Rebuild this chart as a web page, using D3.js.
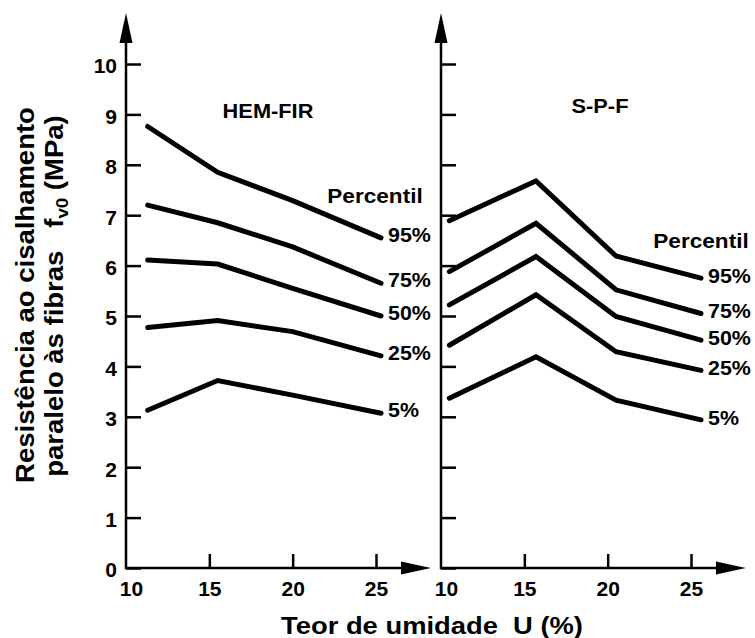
<!DOCTYPE html>
<html>
<head>
<meta charset="utf-8">
<script src="https://cdn.jsdelivr.net/npm/d3@7"></script>
<style>
  body { margin: 0; background: #fff; }
  svg { display: block; }
  text { font-family: "Liberation Sans", Arial, Helvetica, sans-serif; font-weight: bold; fill: #000; }
</style>
</head>
<body>
<svg id="chart" width="755" height="638"></svg>
<script>
// Moisture content U (%) at which each percentile curve is given
const moistureHemFir = [11.3, 15.5, 20.0, 25.3];
const moistureSpf = [10.5, 15.7, 20.5, 25.6];
const percentiles = ["95%", "75%", "50%", "25%", "5%"];

// HEM-FIR: shear strength parallel to grain fv0 (MPa)
const hemFir95 = [8.76, 7.85, 7.29, 6.55];
const hemFir75 = [7.20, 6.85, 6.37, 5.65];
const hemFir50 = [6.11, 6.03, 5.55, 5.00];
const hemFir25 = [4.77, 4.91, 4.69, 4.21];
const hemFir5  = [3.13, 3.72, 3.43, 3.07];

// S-P-F: shear strength parallel to grain fv0 (MPa)
const spf95 = [6.89, 7.68, 6.19, 5.75];
const spf75 = [5.88, 6.84, 5.52, 5.05];
const spf50 = [5.22, 6.18, 4.99, 4.52];
const spf25 = [4.42, 5.42, 4.29, 3.92];
const spf5  = [3.37, 4.19, 3.33, 2.94];

const xTicks = [10, 15, 20, 25];
const yTicks = [0, 1, 2, 3, 4, 5, 6, 7, 8, 9, 10];
const panelNames = ["HEM-FIR", "S-P-F"];

const svg = d3.select("#chart");

// Shared vertical scale
const y = d3.scaleLinear().domain([0, 10]).range([568, 64]);

// Place a text element, optionally rotated, with a horizontal stretch around its anchor
function placeText(sel, px, py, k, rot) {
  sel.attr("transform", `translate(${px},${py})` + (rot ? ` rotate(${rot})` : "") + ` scale(${k},1)`);
  return sel;
}

const panels = [
  {
    name: panelNames[0],
    moisture: moistureHemFir,
    series: [hemFir95, hemFir75, hemFir50, hemFir25, hemFir5],
    range: [126, 376],
    showYLabels: true,
    title: [268, 118],
    percentil: [375, 203],
    labelDy: 3
  },
  {
    name: panelNames[1],
    moisture: moistureSpf,
    series: [spf95, spf75, spf50, spf25, spf5],
    range: [441, 691],
    showYLabels: false,
    title: [600, 113],
    percentil: [701, 248],
    labelDy: 4
  }
];

panels.forEach(p => {
  const x = d3.scaleLinear().domain([10, 25]).range(p.range);
  const g = svg.append("g");
  const x0 = x(10), y0 = y(0);

  // Y axis: ticks point into the plot
  const yAxis = d3.axisLeft(y)
    .tickValues(yTicks)
    .tickSizeInner(-15)
    .tickSizeOuter(0)
    .tickPadding(9)
    .tickFormat(p.showYLabels ? d3.format("d") : () => "");
  const gy = g.append("g").attr("transform", `translate(${x0},0)`).call(yAxis);
  gy.attr("font-family", null).attr("font-size", null);
  gy.select(".domain").remove();
  gy.selectAll(".tick line").attr("stroke", "#000").attr("stroke-width", 2.5);
  gy.selectAll(".tick text")
    .attr("font-size", 21)
    .attr("dy", "0.42em");

  // X axis: ticks point up into the plot
  const xAxis = d3.axisBottom(x)
    .tickValues(xTicks)
    .tickSizeInner(-14)
    .tickSizeOuter(0)
    .tickPadding(13)
    .tickFormat(d3.format("d"));
  const gx = g.append("g").attr("transform", `translate(0,${y0})`).call(xAxis);
  gx.attr("font-family", null).attr("font-size", null);
  gx.select(".domain").remove();
  gx.selectAll(".tick line").attr("stroke", "#000").attr("stroke-width", 2.5);
  gx.selectAll(".tick text").attr("font-size", 21);
  gx.selectAll(".tick text").filter(d => d === 10).attr("dx", 5);
  gx.selectAll(".tick").filter(d => d === 10).select("line").remove();

  // Axis lines with arrowheads
  const yTip = 13, yBase = 43, xTip = x(25) + 55, xBase = xTip - 30, hw = 6.5;
  g.append("line")
    .attr("x1", x0).attr("x2", x0).attr("y1", y0 + 1).attr("y2", yBase)
    .attr("stroke", "#000").attr("stroke-width", 2.5);
  g.append("path")
    .attr("d", `M${x0},${yTip}L${x0 - hw},${yBase}L${x0 + hw},${yBase}Z`)
    .attr("fill", "#000");
  g.append("line")
    .attr("x1", x0 - 1).attr("x2", xBase).attr("y1", y0).attr("y2", y0)
    .attr("stroke", "#000").attr("stroke-width", 2.5);
  g.append("path")
    .attr("d", `M${xTip},${y0}L${xBase},${y0 - hw}L${xBase},${y0 + hw}Z`)
    .attr("fill", "#000");

  // Percentile curves
  const line = d3.line()
    .x(d => x(d[0]))
    .y(d => y(d[1]));
  p.series.forEach((vals, i) => {
    const pts = vals.map((v, j) => [p.moisture[j], v]);
    g.append("path")
      .attr("d", line(pts))
      .attr("fill", "none")
      .attr("stroke", "#000")
      .attr("stroke-width", 5)
      .attr("stroke-linejoin", "miter")
      .attr("stroke-linecap", "round");
    const last = pts[pts.length - 1];
    placeText(g.append("text")
      .attr("font-size", 21)
      .text(percentiles[i]), x(last[0]) + 7, y(last[1]) + p.labelDy + 1, 1.02, 0);
  });

  // Panel title and legend heading
  placeText(g.append("text")
    .attr("font-size", 20)
    .attr("text-anchor", "middle")
    .text(p.name), p.title[0], p.title[1], 1.09, 0);
  placeText(g.append("text")
    .attr("font-size", 20)
    .attr("text-anchor", "middle")
    .text("Percentil"), p.percentil[0], p.percentil[1], 1.13, 0);
});

// Horizontal axis title
placeText(svg.append("text")
  .attr("font-size", 24)
  .attr("text-anchor", "middle")
  .style("white-space", "pre")
  .text("Teor de umidade  U (%)"), 432, 634, 1.14, 0);

// Vertical axis title (two lines)
placeText(svg.append("text")
  .attr("font-size", 25)
  .attr("text-anchor", "middle")
  .text("Resistência ao cisalhamento"), 34, 295, 1.1, -90);

const t2 = svg.append("text")
  .attr("font-size", 25)
  .attr("text-anchor", "middle")
  .style("white-space", "pre");
t2.append("tspan").text("paralelo às fibras   f");
t2.append("tspan").attr("font-size", 17).attr("dy", 5).text("v0");
t2.append("tspan").attr("dy", -5).text(" (MPa)");
placeText(t2, 63, 296, 1.1, -90);
</script>
</body>
</html>
